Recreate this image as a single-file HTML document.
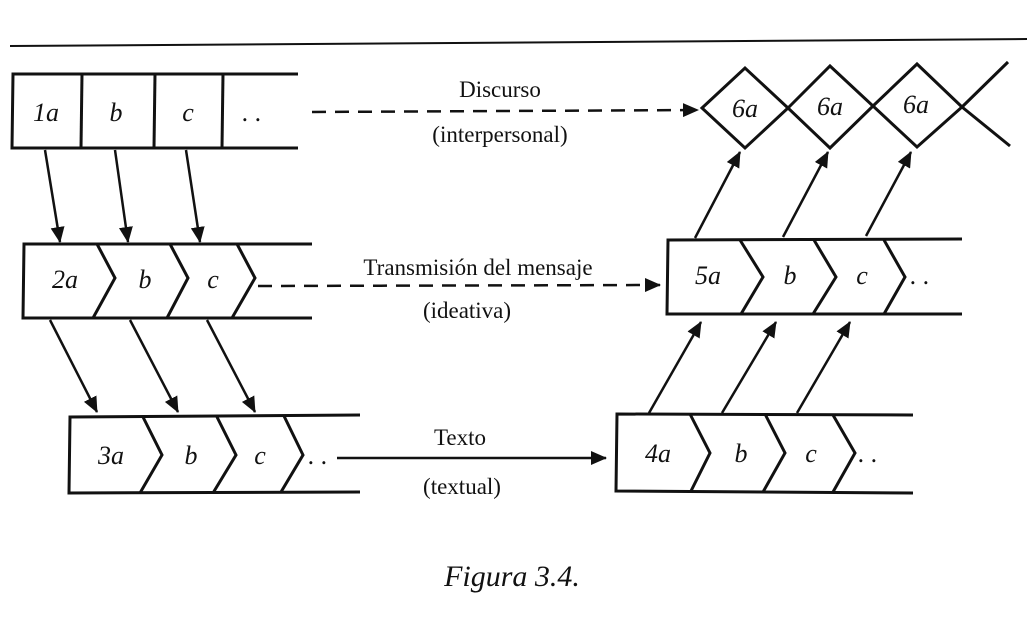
<!DOCTYPE html>
<html><head><meta charset="utf-8"><style>
html,body{margin:0;padding:0;background:#fff;}
svg{display:block;}
text{font-family:"Liberation Serif",serif;fill:#111;}
.l{font-style:italic;font-size:26px;text-anchor:middle;}
.t{font-size:23px;text-anchor:middle;}
</style></head><body>
<svg width="1027" height="619" viewBox="0 0 1027 619">
<defs>
<marker id="ah2" markerWidth="16" markerHeight="14" refX="15" refY="7" orient="auto" markerUnits="userSpaceOnUse" viewBox="0 0 16 14">
<path d="M0,0 L16,7 L0,14 z" fill="#111"/></marker>
</defs>
<g stroke="#111" stroke-width="3" fill="none">
<line x1="10" y1="46" x2="1027" y2="39" stroke-width="2"/>
<polyline points="298,74 13,74 12,148 298,148"/>
<line x1="82" y1="74" x2="81" y2="148"/><line x1="155" y1="74" x2="154" y2="148"/><line x1="223" y1="74" x2="222" y2="148"/>
<path d="M702,108 L745,68 L788,108 L745,148 Z"/>
<path d="M788,108 L830,66 L873,106 L830,148 Z"/>
<path d="M873,106 L917,64 L962,107 L917,147 Z"/>
<line x1="962" y1="107" x2="1008" y2="62"/><line x1="962" y1="107" x2="1010" y2="146"/>
<polyline points="312,244 24,244 23,318 312,318"/>
<polyline points="97,244 115,278 93,318"/><polyline points="170,244 188,278 167,318"/><polyline points="237,244 255,278 232,318"/>
<polyline points="962,239 668,240 667,314 962,314"/>
<polyline points="740,240 763,277 741,314"/><polyline points="814,240 836,277 813,314"/><polyline points="884,240 905,277 884,314"/>
<polyline points="360,415 70,417 69,493 360,492"/>
<polyline points="143,417 162,455 140,493"/><polyline points="217,417 236,455 213,493"/><polyline points="284,416 303,455 281,492"/>
<polyline points="913,415 617,414 616,491 913,493"/>
<polyline points="690,414 710,453 691,491"/><polyline points="765,414 785,453 763,492"/><polyline points="833,415 855,453 833,492"/>
<g stroke-width="2.5" marker-end="url(#ah2)">
<line x1="45" y1="150" x2="60" y2="242"/><line x1="115" y1="150" x2="128" y2="242"/><line x1="186" y1="150" x2="200" y2="242"/>
<line x1="50" y1="320" x2="97" y2="412"/><line x1="130" y1="320" x2="178" y2="412"/><line x1="207" y1="320" x2="255" y2="412"/>
<line x1="649" y1="413" x2="701" y2="322"/><line x1="722" y1="413" x2="776" y2="322"/><line x1="797" y1="413" x2="850" y2="322"/>
<line x1="695" y1="238" x2="740" y2="152"/><line x1="783" y1="237" x2="828" y2="152"/><line x1="866" y1="236" x2="911" y2="152"/>
</g>
<line x1="312" y1="112" x2="698" y2="110" stroke-width="2.5" stroke-dasharray="14,9" marker-end="url(#ah2)"/>
<line x1="258" y1="286" x2="660" y2="285" stroke-width="2.5" stroke-dasharray="14,9" marker-end="url(#ah2)"/>
<line x1="337" y1="458" x2="606" y2="458" stroke-width="2.5" marker-end="url(#ah2)"/>
</g>
<text class="l" x="46" y="121">1a</text><text class="l" x="116" y="121">b</text><text class="l" x="188" y="121">c</text><text class="l" x="252" y="121">. .</text>
<text class="l" x="745" y="117">6a</text><text class="l" x="830" y="115">6a</text><text class="l" x="916" y="113">6a</text>
<text class="l" x="65" y="288">2a</text><text class="l" x="145" y="288">b</text><text class="l" x="213" y="288">c</text>
<text class="l" x="708" y="284">5a</text><text class="l" x="790" y="284">b</text><text class="l" x="862" y="284">c</text><text class="l" x="920" y="284">. .</text>
<text class="l" x="111" y="464">3a</text><text class="l" x="191" y="464">b</text><text class="l" x="260" y="464">c</text><text class="l" x="318" y="464">. .</text>
<text class="l" x="658" y="462">4a</text><text class="l" x="741" y="462">b</text><text class="l" x="811" y="462">c</text><text class="l" x="868" y="462">. .</text>
<text class="t" x="500" y="97">Discurso</text>
<text class="t" x="500" y="142">(interpersonal)</text>
<text class="t" x="478" y="275">Transmisión del mensaje</text>
<text class="t" x="467" y="318">(ideativa)</text>
<text class="t" x="460" y="445">Texto</text>
<text class="t" x="462" y="494">(textual)</text>
<text x="512" y="586" style="font-style:italic;font-size:30px;text-anchor:middle;">Figura 3.4.</text>
</svg>
</body></html>
